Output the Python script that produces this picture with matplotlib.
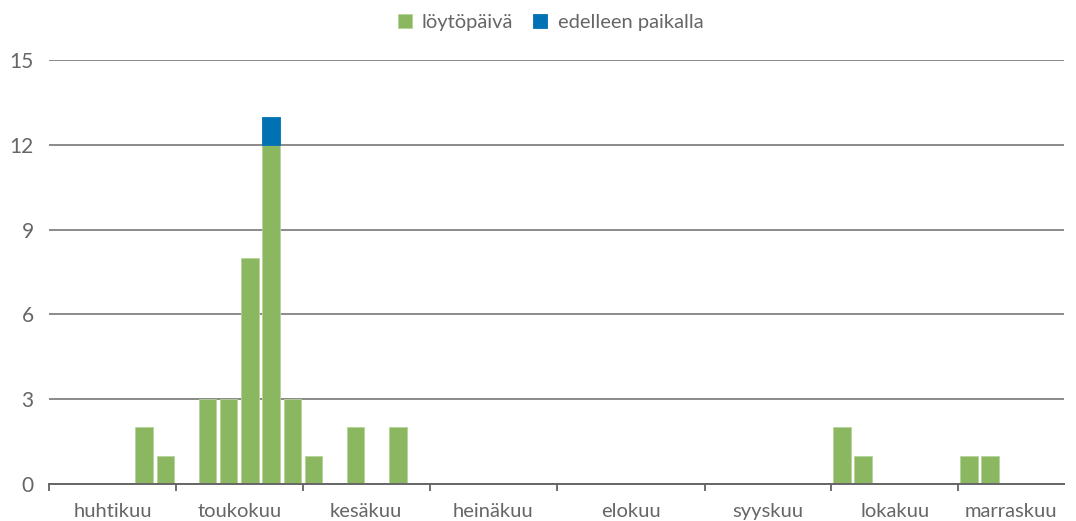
import numpy as np
import matplotlib
matplotlib.use('Agg')
import matplotlib.pyplot as plt
import matplotlib.transforms as mtransforms

plt.rcParams['font.family'] = ['Lato', 'DejaVu Sans']

#####################
# DATA
#####################
months = ['huhtikuu', 'toukokuu', 'kesäkuu', 'heinäkuu', 'elokuu', 'syyskuu', 'lokakuu', 'marraskuu']
slots_per_month = [6, 6, 6, 6, 7, 6, 6, 5]

# bar slot index -> value
found_idx = [4, 5, 7, 8, 9, 10, 11, 12, 14, 16, 37, 38, 43, 44]
found_val = [2, 1, 3, 3, 8, 12, 3, 1, 2, 2, 2, 1, 1, 1]
still_idx = [10]
still_val = [1]

GREEN = '#8cb761'
BLUE = '#0071b3'
TXT = '#666666'

n = sum(slots_per_month)
found = np.zeros(n)
found[found_idx] = found_val
still = np.zeros(n)
still[still_idx] = still_val
x = np.arange(n)

fig = plt.figure(figsize=(10.76, 5.21), dpi=100)
ax = fig.add_axes([49/1076, 1-484/521, (1064-49)/1076, (484-60)/521])

ax.bar(x, found, width=0.82, color=GREEN, edgecolor='#b5d39a', linewidth=0.6,
       label='löytöpäivä', zorder=3)
m = still > 0
ax.bar(x[m], still[m], bottom=found[m], width=0.82, color=BLUE, edgecolor=BLUE, linewidth=0.6,
       label='edelleen paikalla', zorder=3)

ax.set_xlim(-0.5, n - 0.5)
ax.set_ylim(0, 15)
ax.set_yticks([0, 3, 6, 9, 12, 15])
ax.yaxis.grid(True, color='#8a8a8a', linewidth=1.4, zorder=0)
ax.tick_params(axis='y', length=0, labelsize=15, labelcolor=TXT, pad=11)

for s in ['top', 'right', 'left']:
    ax.spines[s].set_visible(False)
ax.spines['bottom'].set_color('#666666')
ax.spines['bottom'].set_linewidth(1.4)
ax.spines['bottom'].set_zorder(4)

# month boundaries as ticks, month names centred in groups
bounds = np.concatenate([[0], np.cumsum(slots_per_month)]) - 0.5
ax.set_xticks(bounds[:-1])
ax.set_xticklabels([])
ax.tick_params(axis='x', length=5, width=1.2, color='#555555')
trans = mtransforms.blended_transform_factory(ax.transData, ax.transAxes)
for i, mo in enumerate(months):
    ax.text((bounds[i] + bounds[i + 1]) / 2, -0.064, mo, transform=trans,
            ha='center', va='center', fontsize=14.5, color=TXT)

leg = ax.legend(loc='lower center', bbox_to_anchor=(0.494, 1.025), ncol=2, frameon=False,
                fontsize=14.5, handlelength=0.7, handleheight=0.7, handletextpad=0.5,
                columnspacing=1.0, labelcolor=TXT)

fig.savefig('out.png', dpi=100)
